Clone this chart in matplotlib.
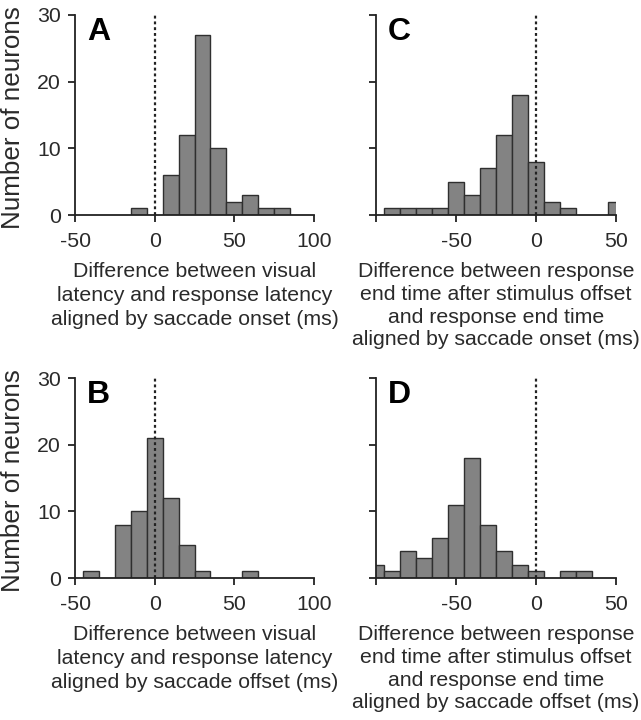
import matplotlib
matplotlib.use("Agg")
import matplotlib.pyplot as plt
import numpy as np

plt.rcParams['font.family'] = ['Liberation Sans', 'DejaVu Sans']

# Panel A: visual latency vs response latency (saccade onset)
a_centers = [-10, 10, 20, 30, 40, 50, 60, 70, 80]
a_counts = [1, 6, 12, 27, 10, 2, 3, 1, 1]
# Panel B: (saccade offset)
b_centers = [-40, -20, -10, 0, 10, 20, 30, 60]
b_counts = [1, 8, 10, 21, 12, 5, 1, 1]
# Panel C: response end time (saccade onset)
c_centers = [-90, -80, -70, -60, -50, -40, -30, -20, -10, 0, 10, 20, 50]
c_counts = [1, 1, 1, 1, 5, 3, 7, 12, 18, 8, 2, 1, 2]
# Panel D: response end time (saccade offset)
d_centers = [-100, -90, -80, -70, -60, -50, -40, -30, -20, -10, 0, 20, 30]
d_counts = [2, 1, 4, 3, 6, 11, 18, 8, 4, 2, 1, 1, 1]

bin_width = 10
yticks = [0, 10, 20, 30]
ab_xticks = [-50, 0, 50, 100]
ab_xlabels = ['-50', '0', '50', '100']
cd_xticks = [-100, -50, 0, 50]
cd_xlabels = ['', '-50', '0', '50']

xlabel_ab_onset = "Difference between visual\nlatency and response latency\naligned by saccade onset (ms)"
xlabel_ab_offset = "Difference between visual\nlatency and response latency\naligned by saccade offset (ms)"
xlabel_cd_onset = ("Difference between response\nend time after stimulus offset\n"
                   "and response end time\naligned by saccade onset (ms)")
xlabel_cd_offset = ("Difference between response\nend time after stimulus offset\n"
                    "and response end time\naligned by saccade offset (ms)")

W, H = 641, 720
fig = plt.figure(figsize=(W / 100, H / 100), dpi=100)

def axrect(left, right, top, bottom):
    return [left / W, 1 - bottom / H, (right - left) / W, (bottom - top) / H]

panels = [
    ('A', axrect(75, 314, 15, 215), a_centers, a_counts, (-50, 100), ab_xticks, ab_xlabels, True, xlabel_ab_onset, 1.33),
    ('C', axrect(376, 616, 15, 215), c_centers, c_counts, (-100, 50), cd_xticks, cd_xlabels, False, xlabel_cd_onset, 1.26),
    ('B', axrect(75, 314, 378, 578), b_centers, b_counts, (-50, 100), ab_xticks, ab_xlabels, True, xlabel_ab_offset, 1.33),
    ('D', axrect(376, 616, 378, 578), d_centers, d_counts, (-100, 50), cd_xticks, cd_xlabels, False, xlabel_cd_offset, 1.26),
]

txt = '#2a2a2a'
for letter, rect, centers, counts, xlim, xt, xtl, ylab, xlabel, lsp in panels:
    ax = fig.add_axes(rect)
    ax.bar(centers, counts, width=bin_width, color='#838383', edgecolor='#2f2f2f',
           linewidth=1.0, zorder=2)
    ax.plot([0, 0], [0, 30], linestyle=(0, (1.3, 1.3)), color='#222222', linewidth=1.6, zorder=3)
    ax.set_xlim(*xlim)
    ax.set_ylim(0, 30)
    for s in ['top', 'right']:
        ax.spines[s].set_visible(False)
    for s in ['left', 'bottom']:
        ax.spines[s].set_linewidth(1.3)
        ax.spines[s].set_color('#222222')
    ax.set_xticks(xt)
    ax.set_xticklabels(xtl, fontsize=15.3, color=txt)
    ax.set_yticks(yticks)
    if ylab:
        ax.set_yticklabels([str(v) for v in yticks], fontsize=15.3, color=txt)
        yc = rect[1] + rect[3] / 2 - 0.003
        fig.text(13 / W, yc, 'Number of neurons', rotation=90, fontsize=18.7,
                 color=txt, ha='center', va='center')
    else:
        ax.set_yticklabels([])
    ax.tick_params(axis='x', direction='out', length=5, width=1.3, color='#222222', pad=7)
    ax.tick_params(axis='y', direction='out', length=5, width=1.3, color='#222222', pad=5)
    ax.set_xlabel(xlabel, fontsize=15.3, color=txt, linespacing=lsp, labelpad=8)
    ax.text(0.05, 0.99, letter, transform=ax.transAxes, fontsize=23, fontweight='bold',
            va='top', ha='left', color='black')

fig.savefig('out.png', dpi=100)
